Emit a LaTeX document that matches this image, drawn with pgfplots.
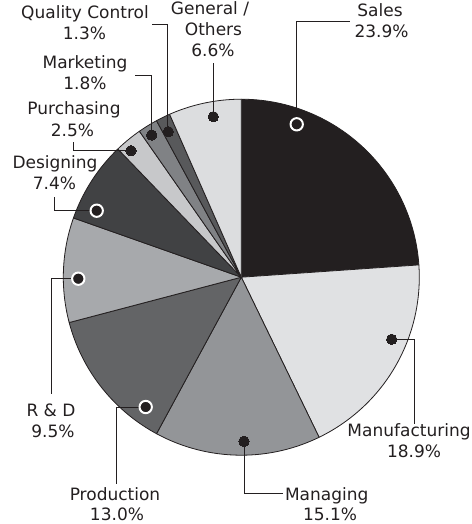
\documentclass[border=0pt]{standalone}
\usepackage{fontspec}
\setmainfont{DejaVu Sans}
\usepackage{pgfplots}
\usepackage{pgfplotstable}
\pgfplotsset{compat=1.18}

\definecolor{ink}{HTML}{231F20}
\definecolor{cSales}{HTML}{231F20}
\definecolor{cManuf}{HTML}{E0E1E3}
\definecolor{cManag}{HTML}{939598}
\definecolor{cProd}{HTML}{636466}
\definecolor{cRD}{HTML}{A7A9AC}
\definecolor{cDesign}{HTML}{414244}
\definecolor{cPurch}{HTML}{C7C8CA}
\definecolor{cMarket}{HTML}{808285}
\definecolor{cQC}{HTML}{58595B}
\definecolor{cGeneral}{HTML}{DCDDDF}

% shares in percent, clockwise from 12 o'clock
\pgfplotstableread{
share shade
23.9 cSales
18.9 cManuf
15.1 cManag
13.0 cProd
9.5 cRD
7.4 cDesign
2.5 cPurch
1.8 cMarket
1.3 cQC
6.6 cGeneral
}\piedata

\newcommand\lbl[3]{\node[anchor=base,text=ink,inner sep=0pt] at (axis cs:#1,#2) {#3};}

\begin{document}
\begin{tikzpicture}[font=\fontsize{17bp}{20.6bp}\selectfont]
\begin{axis}[
  scale only axis, width=472bp, height=524bp,
  xmin=0, xmax=472, ymin=0, ymax=524, y dir=reverse,
  hide axis, clip=false]

\pgfmathsetmacro\angA{90}
\pgfplotsforeachungrouped \i in {0,...,9}{%
  \pgfplotstablegetelem{\i}{share}\of\piedata \let\share\pgfplotsretval
  \pgfplotstablegetelem{\i}{shade}\of\piedata \let\shade\pgfplotsretval
  \pgfmathsetmacro\angB{\angA-3.6*\share}%
  \edef\temp{\noexpand\addplot[fill=\shade, draw=ink, line width=0.8pt, line join=round,
      domain=\angB:\angA, samples=80]
      ({241.3+178*cos(x)},{277.2-178*sin(x)}) -- (axis cs:241.3,277.2) -- cycle;}%
  \temp
  \let\angA\angB
}

% leader lines
\pgfplotsset{leader/.style={ink, line width=1pt, no marks}}
\addplot[leader] coordinates {(296.7,124.3) (296.7,21.7) (350,21.7)};
\addplot[leader] coordinates {(213.3,116.7) (213.3,63.3)};
\addplot[leader] coordinates {(167.5,131.7) (167.5,24.3) (151.7,24.3)};
\addplot[leader] coordinates {(151.7,135) (151.7,75) (135,75)};
\addplot[leader] coordinates {(131,150.7) (73.3,150.7) (73.3,141.7)};
\addplot[leader] coordinates {(96.7,210.7) (54.3,210.7) (54.3,196.7)};
\addplot[leader] coordinates {(78.3,278.7) (51,278.7) (51,393.7)};
\addplot[leader] coordinates {(145.7,407) (116,407) (116,483.7)};
\addplot[leader] coordinates {(244,441.3) (244,493.7) (283.3,493.7)};
\addplot[leader] coordinates {(391.7,339.3) (414.3,339.3) (414.3,423.7)};

% label dots
\addplot[only marks, mark=*, mark size=5.2pt, mark options={fill=ink, draw=ink, line width=0pt}]
  coordinates {(213.3,116.7) (168.3,131.7) (151.7,135) (131,150.7) (244,441.3) (391.7,339.3)};
\addplot[only marks, mark=*, mark size=6.2pt, mark options={fill=ink, draw=white, line width=2pt}]
  coordinates {(296.7,124.3) (96.7,210.7) (78.3,278.7) (145.7,407)};

\lbl{380}{16.7}{Sales}
\lbl{381.5}{37.3}{23.9\%}
\lbl{210}{15}{General /}
\lbl{213.5}{36}{Others}
\lbl{213}{56.7}{6.6\%}
\lbl{85}{18.3}{Quality Control}
\lbl{84.5}{39.3}{1.3\%}
\lbl{85}{68.3}{Marketing}
\lbl{85}{89.3}{1.8\%}
\lbl{74}{115}{Purchasing}
\lbl{72.5}{136.7}{2.5\%}
\lbl{55}{168.3}{Designing}
\lbl{54.5}{189.3}{7.4\%}
\lbl{51}{416}{R \& D}
\lbl{53}{437.7}{9.5\%}
\lbl{115}{500.5}{Production}
\lbl{117}{520.5}{13.0\%}
\lbl{326.7}{500.5}{Managing}
\lbl{330}{520.5}{15.1\%}
\lbl{409}{436.7}{Manufacturing}
\lbl{414}{457.3}{18.9\%}
\end{axis}
\pgfresetboundingbox
\useasboundingbox (0,0) rectangle (472bp,524bp);
\end{tikzpicture}
\end{document}
